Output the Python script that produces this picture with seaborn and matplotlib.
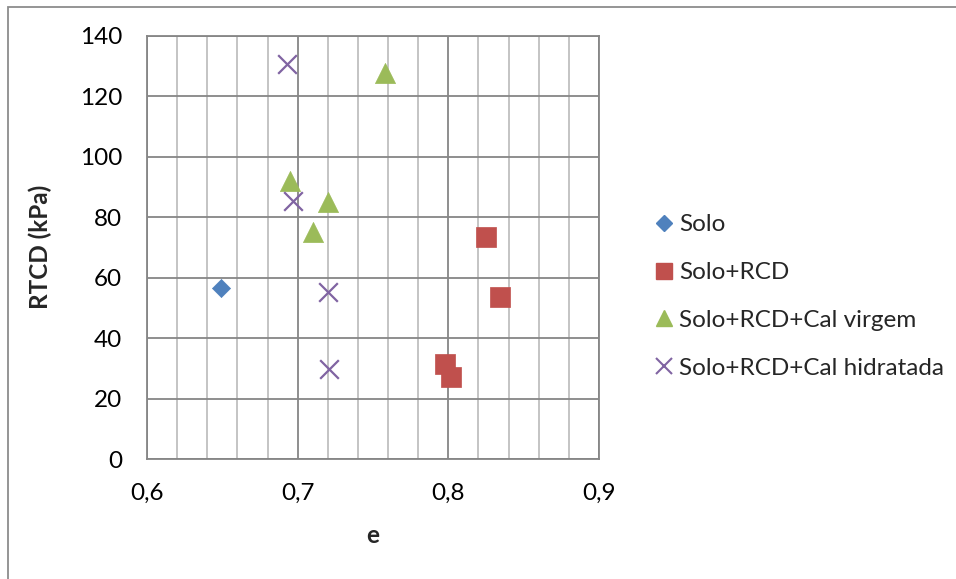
import matplotlib
matplotlib.use("Agg")
import matplotlib.pyplot as plt
from matplotlib.lines import Line2D
from matplotlib.patches import Rectangle
from matplotlib.ticker import MultipleLocator
import seaborn as sns
import pandas as pd

# Void ratio (e) and unconfined compressive strength (RTCD) per mixture
solo_e = [0.649]
solo_rtcd = [56.4]

rcd_e = [0.825, 0.834, 0.798, 0.802]
rcd_rtcd = [73.3, 53.7, 31.4, 27.2]

virgem_e = [0.758, 0.695, 0.720, 0.710]
virgem_rtcd = [127.5, 91.9, 85.1, 75.1]

hidratada_e = [0.693, 0.697, 0.720, 0.721]
hidratada_rtcd = [130.7, 85.3, 55.2, 29.7]

series_names = ["Solo", "Solo+RCD", "Solo+RCD+Cal virgem", "Solo+RCD+Cal hidratada"]
x_ticks = [0.6, 0.7, 0.8, 0.9]
x_tick_labels = ["0,6", "0,7", "0,8", "0,9"]
y_ticks = [0, 20, 40, 60, 80, 100, 120, 140]

colors = ["#4F81BD", "#C0504D", "#9BBB59", "#8064A2"]
markers = ["D", "s", "^", "x"]
sizes = [85, 200, 210, 180]
legend_sizes = [8.5, 12.0, 12.0, 11.0]

frames = []
for name, xs, ys in zip(series_names,
                        [solo_e, rcd_e, virgem_e, hidratada_e],
                        [solo_rtcd, rcd_rtcd, virgem_rtcd, hidratada_rtcd]):
    frames.append(pd.DataFrame({"e": xs, "RTCD": ys, "serie": name}))
df = pd.concat(frames, ignore_index=True)

sns.set_theme(style="white")
plt.rcParams["font.family"] = ["Lato", "DejaVu Sans"]
FS = 17.5

fig = plt.figure(figsize=(9.56, 5.79), dpi=100)
ax = fig.add_axes([147 / 956, 1 - 459 / 579, (599 - 147) / 956, (459 - 35.7) / 579])

# outer chart frame
fig.patches.append(Rectangle((7.5 / 956, -0.05), 1.2, 1 - 6.5 / 579 + 0.05,
                             transform=fig.transFigure, fill=False,
                             edgecolor="#8C8C8C", linewidth=1.3, zorder=0))

for name, c, m, s in zip(series_names, colors, markers, sizes):
    sub = df[df["serie"] == name]
    if m == "x":
        sns.scatterplot(data=sub, x="e", y="RTCD", ax=ax, color=c, marker=m,
                        s=s, linewidth=1.6, legend=False, zorder=3)
    else:
        sns.scatterplot(data=sub, x="e", y="RTCD", ax=ax, color=c, marker=m,
                        s=s, edgecolor=c, linewidth=0.5, legend=False, zorder=3)

ax.set_xlim(0.6, 0.9)
ax.set_ylim(0, 140)
ax.set_xticks(x_ticks)
ax.set_xticklabels(x_tick_labels)
ax.set_yticks(y_ticks)
ax.set_yticklabels([str(v) for v in y_ticks])
ax.xaxis.set_minor_locator(MultipleLocator(0.02))

ax.grid(which="major", axis="both", color="#868686", linewidth=1.3, zorder=0)
ax.grid(which="minor", axis="x", color="#BFBFBF", linewidth=1.3, zorder=0)
ax.set_axisbelow(True)
for sp in ax.spines.values():
    sp.set_color("#868686")
    sp.set_linewidth(1.3)

ax.tick_params(axis="both", which="both", length=0, labelsize=FS, colors="black")
ax.tick_params(axis="y", pad=18)
ax.tick_params(axis="x", pad=17)

ax.set_xlabel("e", fontsize=FS, fontweight="bold", labelpad=15)
ax.set_ylabel("RTCD (kPa)", fontsize=FS, fontweight="bold", labelpad=20)

handles = []
for c, m, ls in zip(colors, markers, legend_sizes):
    if m == "x":
        handles.append(Line2D([], [], linestyle="none", marker=m, color=c,
                              markersize=ls, markeredgewidth=1.5))
    else:
        handles.append(Line2D([], [], linestyle="none", marker=m, color=c,
                              markeredgecolor=c, markersize=ls))
fig.legend(handles, series_names, loc="center left",
           bbox_to_anchor=(655 / 956, 1 - 296.5 / 579), frameon=False,
           fontsize=FS, handlelength=0.7, handletextpad=0.3,
           labelspacing=1.1, borderaxespad=0, borderpad=0)

fig.savefig("out.png", dpi=100)
